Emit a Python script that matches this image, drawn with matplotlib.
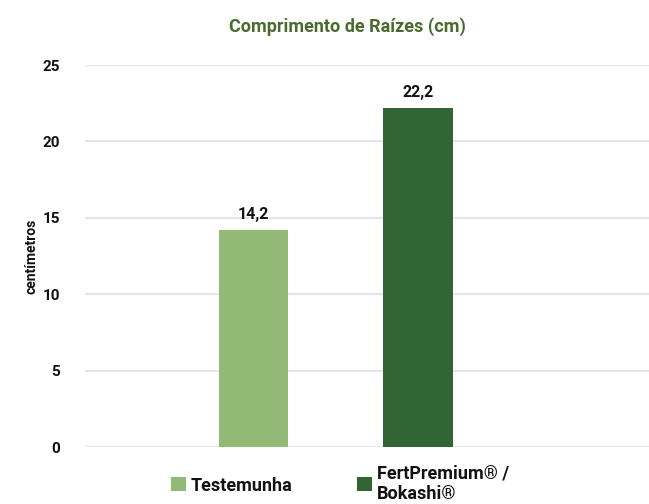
import matplotlib
matplotlib.use("Agg")
import matplotlib.pyplot as plt
from matplotlib.patches import Patch

categories = ["Testemunha", "FertPremium® /\nBokashi®"]
values = [14.2, 22.2]
labels = ["14,2", "22,2"]
colors = ["#92ba76", "#316534"]
yticks = [0, 5, 10, 15, 20, 25]

plt.rcParams['font.family'] = ['Roboto', 'DejaVu Sans']

fig = plt.figure(figsize=(6.49, 5.04), dpi=100)
ax = fig.add_axes([0.131, 0.113, 0.869, 0.758])

x = [0, 1]
ax.bar(x, values, width=0.42, color=colors, zorder=3)
for xi, v, lab in zip(x, values, labels):
    ax.text(xi, v + 0.5, lab, ha='center', va='bottom', fontsize=11.5, fontweight='bold', color='#111111')

ax.set_ylim(0, 25)
ax.set_xlim(-1.024, 2.404)
ax.set_yticks(yticks)
ax.set_yticklabels([str(t) for t in yticks], fontsize=11, fontweight='bold', color='#111111')
ax.tick_params(axis='y', length=0, pad=18)
ax.set_xticks([])
for s in ax.spines.values():
    s.set_visible(False)
ax.grid(axis='y', color='#e6e6e6', linewidth=1.5, zorder=0)
ax.set_axisbelow(True)

ax.set_ylabel("centímetros", fontsize=10, fontweight='bold', color='#111111', labelpad=3)

fig.text(0.536, 0.948, "Comprimento de Raízes (cm)", ha='center', va='center',
         fontsize=13, fontweight='bold', color='#4a6b2e')

handles = [Patch(facecolor=c, edgecolor='none') for c in colors]
leg = fig.legend(handles, categories, loc='upper left', bbox_to_anchor=(0.2497, 0.097),
                 ncol=2, frameon=False, prop={'size': 13, 'weight': 'bold'}, borderpad=0,
                 handlelength=0.85, handleheight=0.85, handletextpad=0.25, columnspacing=3.55,
                 labelspacing=0.05)
for t in leg.get_texts():
    t.set_color('#111111')

fig.savefig("out.png", dpi=100)
